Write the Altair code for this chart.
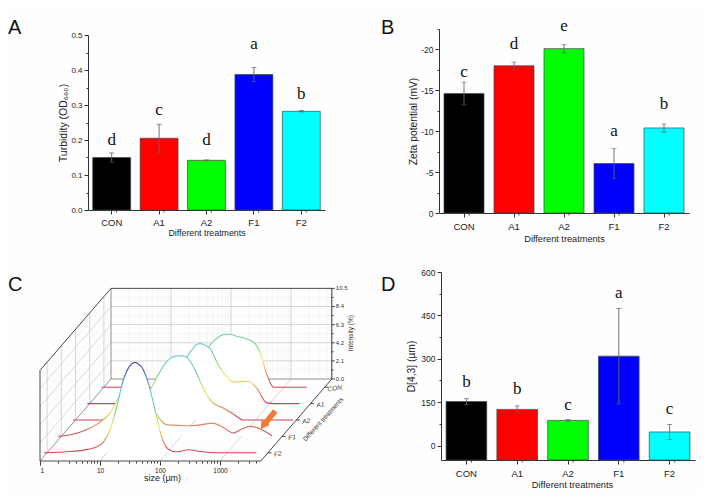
import numpy as np
import pandas as pd
import altair as alt

treatments = ["CON", "A1", "A2", "F1", "F2"]
bar_colors = ["#000000", "#ff0000", "#00ff00", "#0000ff", "#00ffff"]

turbidity = [0.15, 0.205, 0.142, 0.387, 0.282]
turbidity_err = [0.013, 0.04, 0.001, 0.02, 0.002]
turbidity_letters = ["d", "c", "d", "a", "b"]
turbidity_letter_y = [0.2, 0.286, 0.2, 0.473, 0.332]

zeta = [-14.6, -18.0, -20.1, -6.05, -10.4]
zeta_err = [1.4, 0.45, 0.5, 1.85, 0.5]
zeta_letters = ["c", "d", "e", "a", "b"]
zeta_letter_y = [-17.3, -20.7, -22.85, -10.0, -13.3]

d43 = [152, 125, 87, 309, 47]
d43_err = [10, 12, 3, 165, 26]
d43_letters = ["b", "b", "c", "a", "c"]
d43_letter_y = [218, 195, 140, 526, 126]

# Panel C: curves: log10(size), intensity
depth = {"CON": 0.9, "A1": 0.7, "A2": 0.5, "F1": 0.3, "F2": 0.1}
log_con = [-0.04, 0.85, 1.38, 1.66, 1.74, 1.88, 1.96, 2.04, 2.12, 2.21, 2.35, 2.49, 2.6, 2.71, 2.83, 3.38]
int_con = [0, 0, 0.04, 2.36, 4.48, 5.64, 6.02, 6.14, 6.1, 5.91, 5.64, 5.25, 4.09, 1.58, 0, 0]
log_a1 = [-0.04, 0.45, 1.01, 1.34, 1.61, 1.73, 1.78, 1.84, 1.9, 2.01, 2.14, 2.28, 2.39, 2.64, 2.78, 2.95, 3.06, 3.5]
int_a1 = [0, 0, 0.08, 1.62, 5.29, 6.45, 6.83, 6.95, 6.83, 6.33, 4.52, 3.17, 2.51, 2.59, 1.81, 0.08, 0, 0]
log_a2 = [-0.04, 0.58, 0.74, 0.97, 1.22, 1.36, 1.52, 1.63, 1.72, 1.8, 1.88, 2.02, 2.13, 2.27, 2.47, 2.63, 2.8, 3.08, 3.63]
int_a2 = [0, 0, 0.08, 0.77, 3.09, 5.02, 6.76, 7.32, 7.45, 7.41, 7.07, 5.41, 3.67, 2.12, 1.35, 0.69, 0, 0, 0]
log_f1 = [-0.05, 0.17, 0.42, 0.64, 0.81, 0.98, 1.12, 1.23, 1.34, 1.48, 1.62, 1.76, 1.98, 2.2, 2.37, 2.51, 2.67, 2.87, 3.01, 3.14, 3.31, 3.51]
int_f1 = [0, 0.23, 0.77, 1.62, 2.7, 4.83, 6.95, 8.1, 7.14, 4.05, 2.24, 1.35, 1.27, 1.24, 1.39, 1.54, 1.16, 0.39, 0.85, 1.16, 0.89, 0.08]
log_f2 = [-0.05, 0.33, 0.61, 0.83, 0.94, 1.05, 1.16, 1.27, 1.36, 1.41, 1.47, 1.52, 1.58, 1.69, 1.8, 1.91, 1.99, 2.08, 2.16, 2.36, 2.55, 2.83, 3.49]
int_f2 = [0, 0.12, 0.31, 0.69, 1.27, 2.63, 5.33, 8.42, 9.88, 10.3, 10.46, 10.3, 9.88, 8.03, 4.94, 1.85, 0.62, 0.19, 0.12, 0.35, 0.15, 0, 0]
curves = {"CON": (log_con, int_con), "A1": (log_a1, int_a1), "A2": (log_a2, int_a2),
          "F1": (log_f1, int_f1), "F2": (log_f2, int_f2)}

intensity_ticks = [0.0, 2.1, 4.2, 6.3, 8.4, 10.5]
color_levels = [(0, "#d0405a"), (1.5, "#dd8a5a"), (3.0, "#eeee66"), (5.0, "#80d080"),
                (7.0, "#60d0d0"), (9.0, "#5068c0"), (10.5, "#303090")]

FONT = "Liberation Sans"
INK = "#333333"


def bar_panel(values, errs, letters, letter_y, domain, xr, yr, W, H, minor_step,
              label_expr, major_test, ytitle, letter_tag, letter_x, letter_py,
              lab=9.5, ylab=8, ttl=9, ytt=10, lab_pad=3, ttl_pad=2, ytitle_pad=3, title_x=None):
    df = pd.DataFrame({"t": treatments, "v": values, "e": errs, "l": letters, "ly": letter_y})
    df["lo"] = df.v - df.e
    df["hi"] = df.v + df.e
    df["base"] = domain[0]
    xs = alt.Scale(domain=treatments, range=xr, paddingInner=0.2, paddingOuter=0.1)
    ys = alt.Scale(domain=domain, range=yr, nice=False, zero=False)
    n = int(round(abs(domain[1]) / minor_step))
    sign = 1 if domain[1] > 0 else -1
    vals = [round(sign * minor_step * i, 4) for i in range(n + 1)]
    extra = {} if title_x is None else {"titleX": title_x}
    xaxis = alt.Axis(title="Different treatments", labelAngle=0, offset=-(H - yr[0]), tickSize=4,
                     labelPadding=lab_pad, titlePadding=ttl_pad, labelFontSize=lab, titleFontSize=ttl,
                     labelFont=FONT, titleFont=FONT, titleFontWeight="normal", labelColor="#222",
                     titleColor="#222", domainColor=INK, tickColor=INK, grid=False, **extra)
    yaxis = alt.Axis(title=ytitle, values=vals, offset=-xr[0], labelExpr=label_expr,
                     tickSize=alt.expr(f"{major_test} ? 4 : 2"), labelFontSize=ylab, titleFontSize=ytt,
                     labelFont=FONT, titleFont=FONT, titleFontWeight="normal", labelColor="#222",
                     titleColor="#222", domainColor=INK, tickColor=INK, titlePadding=ytitle_pad,
                     labelOverlap=False, grid=False)
    x_enc = alt.X("t:N", sort=treatments, scale=xs, axis=xaxis)
    bars = alt.Chart(df).mark_bar(stroke="#3a4a4a", strokeWidth=0.7).encode(
        x=x_enc,
        y=alt.Y("v:Q", scale=ys, axis=yaxis),
        y2="base:Q",
        color=alt.Color("t:N", scale=alt.Scale(domain=treatments, range=bar_colors), legend=None),
    )
    err = alt.Chart(df).mark_rule(color="#666666", strokeWidth=0.9).encode(
        x=x_enc, y=alt.Y("lo:Q", scale=ys, axis=yaxis), y2="hi:Q")
    caps_hi = alt.Chart(df).mark_tick(color="#555555", size=5, thickness=0.9).encode(
        x=x_enc, y=alt.Y("hi:Q", scale=ys, axis=yaxis))
    caps_lo = alt.Chart(df).mark_tick(color="#666666", size=5, thickness=0.8, opacity=0.7).encode(
        x=x_enc, y=alt.Y("lo:Q", scale=ys, axis=yaxis))
    step = (xr[1] - xr[0]) / 5
    minor_x = alt.Chart(df).mark_rule(color=INK, strokeWidth=0.9).encode(
        x=x_enc, xOffset=alt.value(step / 2), y=alt.value(yr[0]), y2=alt.value(yr[0] + 2.5))
    txt = alt.Chart(df).mark_text(font="Liberation Serif", fontSize=17, color="#111").encode(
        x=x_enc, y=alt.Y("ly:Q", scale=ys, axis=yaxis), text="l:N")
    tag = alt.Chart(pd.DataFrame({"l": [letter_tag]})).mark_text(
        font=FONT, fontSize=20, align="left", baseline="middle", color="#111").encode(
        x=alt.value(letter_x), y=alt.value(letter_py), text="l:N")
    return alt.layer(bars, err, caps_hi, caps_lo, minor_x, txt, tag).properties(width=W, height=H)


# ---------- Panel C: oblique projection of (log size, depth, intensity)
SHIFT_X = 213 / 180      # decades of screen x over full depth
SHIFT_H = 246 / 25.9     # intensity units of screen y over full depth
LOG_END = 3.68
TOP = 10.5


def proj_x(log, d):
    return log + d * SHIFT_X


def proj_y(i, d):
    return i + d * SHIFT_H


def seg(lg0, d0, i0, lg1, d1, i1):
    return {"x": proj_x(lg0, d0), "y": proj_y(i0, d0), "x2": proj_x(lg1, d1), "y2": proj_y(i1, d1)}


minor_seg, grid_seg, frame_seg = [], [], []
decades = [0, 1, 2, 3]
minor_logs = [k + np.log10(n) for k in range(3) for n in range(2, 10)] + [3 + np.log10(n) for n in (2, 3, 4)]
for lg in minor_logs:
    minor_seg.append(seg(lg, 1, 0, lg, 1, TOP))
for i in np.arange(1.05, TOP, 2.1):
    minor_seg.append(seg(LOG_END, 1, i, 0, 1, i))
    minor_seg.append(seg(0, 0, i, 0, 1, i))
for lg in decades[1:] + [LOG_END]:
    grid_seg.append(seg(lg, 1, 0, lg, 1, TOP))
for lg in decades[1:]:
    grid_seg.append(seg(lg, 0, 0, lg, 1, 0))
for i in intensity_ticks[1:-1]:
    grid_seg.append(seg(0, 1, i, LOG_END, 1, i))
    grid_seg.append(seg(0, 0, i, 0, 1, i))
for d in depth.values():
    grid_seg.append(seg(0, d, 0, 0, d, TOP))
frame_seg += [seg(0, 0, 0, 0, 0, TOP), seg(0, 0, TOP, 0, 1, TOP), seg(0, 1, TOP, LOG_END, 1, TOP),
              seg(LOG_END, 1, 0, LOG_END, 1, TOP), seg(0, 0, 0, LOG_END, 0, 0),
              seg(LOG_END, 0, 0, LOG_END, 1, 0)]
back_seg = [seg(0, 1, 0, LOG_END, 1, 0), seg(0, 1, 0, 0, 1, TOP), seg(0, 0, 0, 0, 1, 0)]
for i in np.arange(0, TOP + 0.01, 1.05):
    frame_seg.append({"x": proj_x(LOG_END, 1), "y": proj_y(i, 1),
                      "x2": proj_x(LOG_END, 1) + (0.05 if round(i / 1.05) % 2 == 0 else 0.03),
                      "y2": proj_y(i, 1)})
for d in depth.values():
    frame_seg.append({"x": proj_x(LOG_END, d), "y": proj_y(0, d), "x2": proj_x(LOG_END, d) + 0.06, "y2": proj_y(0, d)})

tick_vals = decades + [round(float(v), 4) for v in minor_logs]
c_axis = alt.Axis(title="size (µm)", values=tick_vals, domain=False, offset=-32, orient="bottom",
                  labelExpr="datum.value % 1 == 0 ? format(pow(10, datum.value), 'd') : ''",
                  tickSize=alt.expr("datum.value % 1 == 0 ? 4 : 2"), labelOverlap=False, labelFontSize=6.5,
                  labelFont=FONT, titleFont=FONT, titleFontSize=9, titleFontWeight="normal",
                  titleX=154, titlePadding=0, labelPadding=2, tickColor=INK, labelColor="#222",
                  titleColor="#222", grid=False)
C_X = alt.Scale(domain=[0, 5], range=[32, 332], nice=False, zero=False)
C_Y = alt.Scale(domain=[0, 20], range=[203, 203 - 20 * 25.9 / 3], nice=False, zero=False)
cx = alt.X("x:Q", scale=C_X, axis=c_axis)
cy = alt.Y("y:Q", scale=C_Y, axis=None)


def seg_layer(rows, color, width):
    return alt.Chart(pd.DataFrame(rows)).mark_rule(color=color, strokeWidth=width).encode(
        x=cx, y=cy, x2="x2:Q", y2="y2:Q")


def hex_mix(a, b, t):
    ca = [int(a[i:i + 2], 16) for i in (1, 3, 5)]
    cb = [int(b[i:i + 2], 16) for i in (1, 3, 5)]
    return "#" + "".join(f"{round(p + (q - p) * t):02x}" for p, q in zip(ca, cb))


def curve_gradient(peak):
    stops = []
    for k, (lv, col) in enumerate(color_levels):
        if lv < peak:
            stops.append({"offset": lv / peak, "color": col})
        else:
            prev_lv, prev_col = color_levels[k - 1]
            stops.append({"offset": 1, "color": hex_mix(prev_col, col, (peak - prev_lv) / (lv - prev_lv))})
            break
    else:
        stops.append({"offset": 1, "color": color_levels[-1][1]})
    return {"gradient": "linear", "x1": 0, "y1": 1, "x2": 0, "y2": 0, "stops": stops}


curve_layers = []
for name in treatments:
    lg, it = curves[name]
    d = depth[name]
    dfc = pd.DataFrame({"x": [proj_x(v, d) for v in lg], "y": [proj_y(v, d) for v in it], "y0": proj_y(0, d)})
    curve_layers.append(alt.Chart(dfc).mark_area(fill="white", opacity=1, interpolate="monotone").encode(
        x=cx, y=cy, y2="y0:Q"))
    curve_layers.append(alt.Chart(dfc).mark_line(interpolate="monotone", strokeWidth=1.1,
                                                 stroke=curve_gradient(max(it))).encode(x=cx, y=cy))

int_labels = pd.DataFrame({"x": [proj_x(LOG_END, 1)] * 6, "y": [proj_y(v, 1) for v in intensity_ticks],
                           "t": [f"{v:.1f}" for v in intensity_ticks]})
int_text = alt.Chart(int_labels).mark_text(font=FONT, fontSize=6, align="left", dx=4, color="#333").encode(
    x=cx, y=cy, text="t:N")
tr_labels = pd.DataFrame({"x": [proj_x(LOG_END, depth[t]) for t in treatments],
                          "y": [proj_y(0, depth[t]) - 0.3 for t in treatments], "t": treatments})
tr_text = alt.Chart(tr_labels).mark_text(font=FONT, fontSize=6.5, fontStyle="italic", dx=10, angle=352,
                                         color="#333").encode(x=cx, y=cy, text="t:N")
axis_titles = alt.Chart(pd.DataFrame({"x": [5.18], "y": [14.8], "t": ["Intensity (%)"]})).mark_text(
    font=FONT, fontSize=6.5, angle=270, color="#333").encode(x=cx, y=cy, text="t:N")
axis_titles2 = alt.Chart(pd.DataFrame({"x": [4.72], "y": [4.83], "t": ["Different treatments"]})).mark_text(
    font=FONT, fontSize=6.5, angle=312, color="#333").encode(x=cx, y=cy, text="t:N")
arrow_shaft = alt.Chart(pd.DataFrame({"x": [3.92], "x2": [3.76], "y": [5.8], "y2": [4.4]})).mark_rule(
    color="#ed7d31", strokeWidth=5.5).encode(x=cx, y=cy, x2="x2:Q", y2="y2:Q")
arrow_head = alt.Chart(pd.DataFrame({"x": [3.72], "y": [4.1]})).mark_point(
    shape="triangle-up", filled=True, color="#ed7d31", size=100, angle=215, opacity=1).encode(x=cx, y=cy)
tag_c = alt.Chart(pd.DataFrame({"l": ["C"]})).mark_text(font=FONT, fontSize=20, align="left",
                                                         baseline="middle", color="#111").encode(
    x=alt.value(0), y=alt.value(27), text="l:N")

panel_c = alt.layer(
    seg_layer(minor_seg, "#f0f0f0", 0.6),
    seg_layer(grid_seg, "#d0d0d0", 0.9),
    seg_layer(back_seg, "#777777", 0.8),
    *curve_layers,
    seg_layer(frame_seg, "#333333", 0.9),
    int_text, tr_text, axis_titles, axis_titles2, arrow_shaft, arrow_head, tag_c,
).properties(width=350, height=235)

panel_a = bar_panel(turbidity, turbidity_err, turbidity_letters, turbidity_letter_y, [0, 0.5],
                    [80, 317], [202, 27], 350, 250, 0.05,
                    "round(datum.value * 100) % 10 == 0 ? format(datum.value, '.1f') : ''",
                    "round(datum.value * 100) % 10 == 0", "Turbidity (OD₆₆₀)", "A", 0, 20,
                    ttl=8.8, ytt=10.5, ytitle_pad=2)
panel_b = bar_panel(zeta, zeta_err, zeta_letters, zeta_letter_y, [0, -22.5],
                    [81, 331], [205, 21], 345, 250, 2.5,
                    "datum.value % 5 == 0 ? '' + datum.value : ''",
                    "datum.value % 5 == 0", "Zeta potential (mV)", "B", 23, 20,
                    lab=9.5, ylab=8.5, lab_pad=4, ttl_pad=4, ttl=9.2, ytt=10.3, ytitle_pad=2)
panel_d = bar_panel(d43, d43_err, d43_letters, d43_letter_y, [-50, 600],
                    [83, 337], [202, 14], 345, 235, 75,
                    "datum.value % 150 == 0 ? '' + datum.value : ''",
                    "datum.value % 150 == 0", "D[4,3] (µm)", "D", 23, 27,
                    lab=9.5, ylab=8.5, lab_pad=4, ttl_pad=3, ttl=9.3, ytt=10.3, ytitle_pad=4, title_x=214)

chart = alt.hconcat(
    alt.vconcat(panel_a, panel_c, spacing=0),
    alt.vconcat(panel_b, panel_d, spacing=0),
    spacing=0,
).properties(padding=0, background="#fefefe").configure_view(stroke=None)

chart.save("out.html", embed_options={"renderer": "svg", "actions": False})
